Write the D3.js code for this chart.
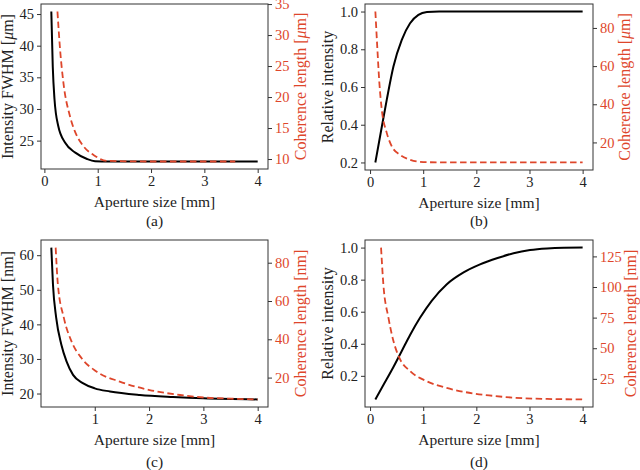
<!DOCTYPE html>
<html>
<head>
<meta charset="utf-8">
<script src="https://cdn.jsdelivr.net/npm/d3@7"></script>
<style>
  body { margin: 0; background: #fff; }
  svg text { font-family: "Liberation Serif", "Times New Roman", serif; }
</style>
</head>
<body>
<div id="chart"></div>
<script>
// panel (a) - FWHM / coherence length in um
var aBlackX = [0.13, 0.157, 0.19, 0.26, 0.39, 0.58, 0.8, 0.95, 1.2, 2, 3, 4];
var aBlackY = [45.4, 36.7, 31.5, 27.3, 24.65, 23.1, 22.1, 21.75, 21.7, 21.7, 21.7, 21.7];
var aRedX = [0.245, 0.295, 0.357, 0.48, 0.58, 0.73, 0.95, 1.17, 2, 3, 3.58];
var aRedY = [33.8, 27.6, 22.3, 16.9, 14.3, 12.1, 10.5, 9.7, 9.6, 9.6, 9.6];

// panel (b) - relative intensity / coherence length in um
var bBlackX = [0.1, 0.2, 0.314, 0.44, 0.597, 0.753, 0.91, 1.07, 1.3, 2, 3, 4];
var bBlackY = [0.2, 0.356, 0.532, 0.709, 0.85, 0.938, 0.982, 0.997, 1.0, 1.0, 1.0, 1.0];
var bRedX = [0.1, 0.138, 0.175, 0.22, 0.314, 0.41, 0.565, 0.753, 1.0, 1.5, 2, 3, 4];
var bRedY = [88.6, 68.9, 51.3, 37.3, 25.0, 17.9, 13.5, 10.9, 9.7, 9.5, 9.5, 9.5, 9.5];

// panel (c) - FWHM / coherence length in nm
var cBlackX = [0.2, 0.23, 0.29, 0.385, 0.48, 0.6, 0.78, 1.0, 1.28, 1.83, 2.44, 3, 4];
var cBlackY = [62.2, 51.6, 41.9, 34.1, 29.3, 25.4, 23.0, 21.5, 20.6, 19.6, 19.0, 18.6, 18.3];
var cRedX = [0.28, 0.32, 0.43, 0.57, 0.755, 1.03, 1.46, 2.01, 2.57, 3, 3.5, 4];
var cRedY = [87.9, 68.9, 51.3, 39.0, 30.2, 23.2, 17.9, 13.5, 10.9, 9.6, 9.0, 8.6];

// panel (d) - relative intensity / coherence length in nm
var dBlackX = [0.1, 0.264, 0.44, 0.597, 0.753, 0.94, 1.16, 1.44, 1.76, 2.07, 2.4, 2.7, 3.01, 3.33, 3.65, 4];
var dBlackY = [0.053, 0.15, 0.255, 0.355, 0.455, 0.562, 0.668, 0.77, 0.845, 0.895, 0.935, 0.965, 0.985, 0.995, 0.999, 1.0];
var dRedX = [0.207, 0.25, 0.345, 0.44, 0.55, 0.753, 1.07, 1.44, 1.95, 2.3, 2.7, 3.33, 4];
var dRedY = [132.2, 102.5, 75.2, 55.9, 42.3, 31.3, 23.0, 17.6, 13.0, 11.2, 9.6, 8.6, 8.2];

// tick labels
var xTicks04 = [0, 1, 2, 3, 4];
var xTicks14 = [1, 2, 3, 4];
var aLeftTicks = [25, 30, 35, 40, 45];
var aRightTicks = [10, 15, 20, 25, 30, 35];
var intensityTicks = [0.2, 0.4, 0.6, 0.8, 1.0];
var bRightTicks = [20, 40, 60, 80];
var cLeftTicks = [20, 30, 40, 50, 60];
var cRightTicks = [20, 40, 60, 80];
var dRightTicks = [25, 50, 75, 100, 125];

var red = "#de462b";
var ink = "#222";

var svg = d3.select("#chart").append("svg")
  .attr("width", 640)
  .attr("height", 470);

// matplotlib style 5% auto margin
function pad(arr) {
  var e = d3.extent(arr);
  var m = (e[1] - e[0]) * 0.05;
  return [e[0] - m, e[1] + m];
}

function zip(xs, ys) {
  return xs.map(function(x, i) { return [x, ys[i]]; });
}

function drawPanel(p) {
  var g = svg.append("g");
  var x = d3.scaleLinear().domain(pad(p.bx.concat(p.rx))).range([p.left, p.right]);
  var yL = d3.scaleLinear().domain(pad(p.by)).range([p.bottom, p.top]);
  var yR = d3.scaleLinear().domain(pad(p.ry)).range([p.bottom, p.top]);

  var xAxis = g.append("g")
    .attr("transform", "translate(0," + p.bottom + ")")
    .call(d3.axisBottom(x).tickValues(p.xTicks).tickFormat(d3.format("d")).tickSize(4).tickPadding(3));
  var lAxis = g.append("g")
    .attr("transform", "translate(" + p.left + ",0)")
    .call(d3.axisLeft(yL).tickValues(p.lTicks).tickFormat(p.lFmt).tickSize(4).tickPadding(3));
  var rAxis = g.append("g")
    .attr("transform", "translate(" + p.right + ",0)")
    .call(d3.axisRight(yR).tickValues(p.rTicks).tickFormat(d3.format("d")).tickSize(4).tickPadding(3));

  [xAxis, lAxis, rAxis].forEach(function(a) {
    a.select(".domain").remove();
    a.selectAll("line").attr("stroke", "#333");
    a.selectAll("text").style("font-size", "14.5px").attr("fill", ink);
  });
  rAxis.selectAll("text").attr("fill", red);

  var line = d3.line().curve(d3.curveMonotoneX);

  g.append("path")
    .datum(zip(p.bx, p.by).map(function(d) { return [x(d[0]), yL(d[1])]; }))
    .attr("d", line)
    .attr("fill", "none")
    .attr("stroke", "#000")
    .attr("stroke-width", 2);

  g.append("path")
    .datum(zip(p.rx, p.ry).map(function(d) { return [x(d[0]), yR(d[1])]; }))
    .attr("d", line)
    .attr("fill", "none")
    .attr("stroke", red)
    .attr("stroke-width", 1.8)
    .attr("stroke-dasharray", "6.5,3.5");

  g.append("rect")
    .attr("x", p.left).attr("y", p.top)
    .attr("width", p.right - p.left).attr("height", p.bottom - p.top)
    .attr("fill", "none")
    .attr("stroke", "#333")
    .attr("stroke-width", 1);

  var cx = (p.left + p.right) / 2;
  var cy = (p.top + p.bottom) / 2;

  g.append("text")
    .attr("x", cx).attr("y", p.bottom + 38)
    .attr("text-anchor", "middle")
    .style("font-size", "15.5px")
    .attr("fill", ink)
    .text("Aperture size [mm]");

  g.append("text")
    .attr("x", cx).attr("y", p.capY)
    .attr("text-anchor", "middle")
    .style("font-size", "15.5px")
    .attr("fill", ink)
    .text(p.caption);

  var lt = g.append("text")
    .attr("transform", "translate(" + p.lLabelX + "," + cy + ") rotate(-90)")
    .attr("text-anchor", "middle")
    .style("font-size", "16px")
    .attr("fill", ink);
  addLabel(lt, p.lLabel);

  var rt = g.append("text")
    .attr("transform", "translate(" + p.rLabelX + "," + cy + ") rotate(-90)")
    .attr("text-anchor", "middle")
    .style("font-size", "16px")
    .attr("fill", red);
  addLabel(rt, p.rLabel);
}

// label parts: [text, italic?]
function addLabel(t, parts) {
  parts.forEach(function(s) {
    t.append("tspan").style("font-style", s[1] ? "italic" : "normal").text(s[0]);
  });
}

var fmt1 = d3.format(".1f");

drawPanel({
  left: 41, right: 268, top: 4, bottom: 169, capY: 226,
  bx: aBlackX, by: aBlackY, rx: aRedX, ry: aRedY,
  xTicks: xTicks04, lTicks: aLeftTicks, rTicks: aRightTicks, lFmt: d3.format("d"),
  lLabel: [["Intensity FWHM ["], ["\u03bc", true], ["m]"]], lLabelX: 13,
  rLabel: [["Coherence length ["], ["\u03bc", true], ["m]"]], rLabelX: 306,
  caption: "(a)"
});

drawPanel({
  left: 365, right: 593, top: 4, bottom: 170, capY: 226,
  bx: bBlackX, by: bBlackY, rx: bRedX, ry: bRedY,
  xTicks: xTicks04, lTicks: intensityTicks, rTicks: bRightTicks, lFmt: fmt1,
  lLabel: [["Relative intensity"]], lLabelX: 333,
  rLabel: [["Coherence length ["], ["\u03bc", true], ["m]"]], rLabelX: 630,
  caption: "(b)"
});

drawPanel({
  left: 41, right: 268, top: 240, bottom: 407, capY: 467,
  bx: cBlackX, by: cBlackY, rx: cRedX, ry: cRedY,
  xTicks: xTicks14, lTicks: cLeftTicks, rTicks: cRightTicks, lFmt: d3.format("d"),
  lLabel: [["Intensity FWHM [nm]"]], lLabelX: 13,
  rLabel: [["Coherence length [nm]"]], rLabelX: 306,
  caption: "(c)"
});

drawPanel({
  left: 365, right: 593, top: 240, bottom: 407, capY: 467,
  bx: dBlackX, by: dBlackY, rx: dRedX, ry: dRedY,
  xTicks: xTicks04, lTicks: intensityTicks, rTicks: dRightTicks, lFmt: fmt1,
  lLabel: [["Relative intensity"]], lLabelX: 333,
  rLabel: [["Coherence length [nm]"]], rLabelX: 636,
  caption: "(d)"
});
</script>
</body>
</html>
